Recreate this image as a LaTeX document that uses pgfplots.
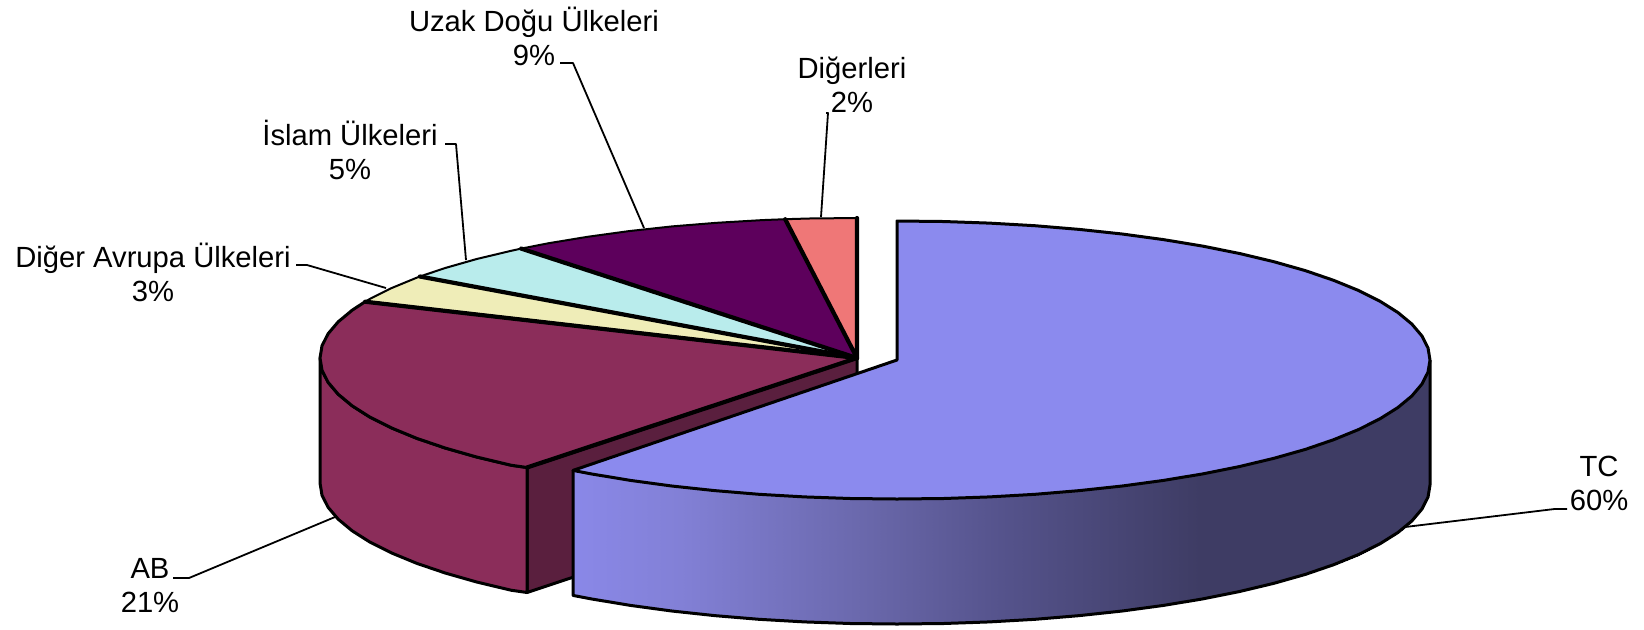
\documentclass[border=0pt]{standalone}
\usepackage{fontspec}
\setmainfont{Liberation Sans}
\usepackage{pgfplots}
\pgfplotsset{compat=1.18}

\definecolor{tcTop}{RGB}{139,138,238}
\definecolor{abTop}{RGB}{139,45,90}
\definecolor{abIn}{RGB}{90,31,62}
\definecolor{daTop}{RGB}{239,237,184}
\definecolor{isTop}{RGB}{185,236,236}
\definecolor{udTop}{RGB}{93,0,92}
\definecolor{dgTop}{RGB}{239,119,119}

\tikzset{
  lbl/.style={font=\fontsize{14.6}{17}\selectfont, align=center, inner sep=0pt},
  lead/.style={black, line width=0.9pt},
  sep/.style={black, line width=2.1pt, line cap=round},
}

\begin{document}
\begin{tikzpicture}
\begin{axis}[
    scale only axis,
    width=822pt, height=314.5pt,
    xmin=0, xmax=1644, ymin=0, ymax=629,
    y dir=reverse,
    hide axis, clip=false, no markers,
    every axis plot/.append style={line join=round},
    colormap={tcwall}{rgb255(0pt)=(138,136,232) rgb255(107pt)=(130,128,214) rgb255(297pt)=(105,103,170) rgb255(427pt)=(85,83,140) rgb255(627pt)=(62,60,100) rgb255(858pt)=(62,60,100)},
    point meta min=573, point meta max=1431,
  ]

  % hidden axis leaves no box of its own, so keep the full page
  \path (axis cs:0,0) rectangle (axis cs:1644,629);

  % AB inner wall
  \addplot[fill=abIn, draw=black, line width=1.5pt] coordinates {
    (857,358) (527,467.5) (527,592.5) (857,483)} -- cycle;
  % AB outer wall
  \addplot[fill=abTop, draw=black, line width=1.5pt] coordinates {
    (320,358) (322,370.2) (328.1,382.3) (338.2,394.2) (352.3,405.9) (370.1,417.2)
    (391.7,428) (416.7,438.3) (445.2,448) (476.7,457) (511.1,465.2) (527,467.5)
    (527,592.5) (511.1,590.2) (476.7,582) (445.2,573) (416.7,563.3) (391.7,553)
    (370.1,542.2) (352.3,530.9) (338.2,519.2) (328.1,507.3) (322,495.2) (320,483)} -- cycle;

  % top faces of the smaller slices
  \addplot[fill=dgTop, draw=black, line width=1pt] coordinates {
    (857,358) (857,218) (808.4,218.5) (785.2,219.2)} -- cycle;
  \addplot[fill=udTop, draw=black, line width=1pt] coordinates {
    (857,358) (785.2,219.2) (762.1,220.1) (716.5,222.8) (672,226.4) (628.9,231.1)
    (587.5,236.8) (548.1,243.3) (521.2,248.6)} -- cycle;
  \addplot[fill=isTop, draw=black, line width=1pt] coordinates {
    (857,358) (521.2,248.6) (511.1,250.8) (476.7,259) (445.2,268) (419.9,276.5)} -- cycle;
  \addplot[fill=daTop, draw=black, line width=1pt] coordinates {
    (857,358) (419.9,276.5) (416.7,277.7) (391.7,288) (370.1,298.8) (365.1,301.7)} -- cycle;
  \addplot[fill=abTop, draw=black, line width=1.5pt] coordinates {
    (857,358) (365.1,301.7) (352.3,310.1) (338.2,321.8) (328.1,333.7) (322,345.8)
    (320,358) (322,370.2) (328.1,382.3) (338.2,394.2) (352.3,405.9) (370.1,417.2)
    (391.7,428) (416.7,438.3) (445.2,448) (476.7,457) (511.1,465.2) (527,467.5)} -- cycle;

  % heavier edges between the slices
  \addplot[sep] coordinates {(857,218) (857,358) (785.2,219.2)};
  \addplot[sep] coordinates {(857,358) (521.2,248.6)};
  \addplot[sep] coordinates {(857,358) (419.9,276.5)};
  \addplot[sep] coordinates {(857,358) (365.1,301.7)};
  \addplot[sep] coordinates {(857,358) (527,467.5)};

  % TC wall, shaded from left to right
  \addplot[patch, patch type=rectangle, shader=interp, point meta=x] coordinates {
    (573,470.4) (591.3,473.9) (591.3,598.9) (573,595.4)
    (591.3,473.9) (630.5,480.4) (630.5,605.4) (591.3,598.9)
    (630.5,480.4) (671.8,486) (671.8,611) (630.5,605.4)
    (671.8,486) (714.7,490.6) (714.7,615.6) (671.8,611)
    (714.7,490.6) (759.1,494.3) (759.1,619.3) (714.7,615.6)
    (759.1,494.3) (804.5,496.9) (804.5,621.9) (759.1,619.3)
    (804.5,496.9) (850.5,498.5) (850.5,623.5) (804.5,621.9)
    (850.5,498.5) (897,499) (897,624) (850.5,623.5)
    (897,499) (943.5,498.5) (943.5,623.5) (897,624)
    (943.5,498.5) (989.5,496.9) (989.5,621.9) (943.5,623.5)
    (989.5,496.9) (1034.9,494.3) (1034.9,619.3) (989.5,621.9)
    (1034.9,494.3) (1079.3,490.6) (1079.3,615.6) (1034.9,619.3)
    (1079.3,490.6) (1122.2,486) (1122.2,611) (1079.3,615.6)
    (1122.2,486) (1163.5,480.4) (1163.5,605.4) (1122.2,611)
    (1163.5,480.4) (1202.7,473.9) (1202.7,598.9) (1163.5,605.4)
    (1202.7,473.9) (1239.6,466.5) (1239.6,591.5) (1202.7,598.9)
    (1239.6,466.5) (1273.9,458.3) (1273.9,583.3) (1239.6,591.5)
    (1273.9,458.3) (1305.3,449.4) (1305.3,574.4) (1273.9,583.3)
    (1305.3,449.4) (1333.6,439.7) (1333.6,564.7) (1305.3,574.4)
    (1333.6,439.7) (1358.6,429.5) (1358.6,554.5) (1333.6,564.7)
    (1358.6,429.5) (1380.1,418.7) (1380.1,543.7) (1358.6,554.5)
    (1380.1,418.7) (1397.9,407.5) (1397.9,532.5) (1380.1,543.7)
    (1397.9,407.5) (1411.8,396) (1411.8,521) (1397.9,532.5)
    (1411.8,396) (1421.9,384.1) (1421.9,509.1) (1411.8,521)
    (1421.9,384.1) (1428,372.1) (1428,497.1) (1421.9,509.1)
    (1428,372.1) (1430,360) (1430,485) (1428,497.1)
  };
  % TC wall outline
  \addplot[draw=black, line width=1.5pt] coordinates {
    (573,470.4) (573,595.4) (591.3,598.9) (630.5,605.4) (671.8,611) (714.7,615.6)
    (759.1,619.3) (804.5,621.9) (850.5,623.5) (897,624) (943.5,623.5) (989.5,621.9)
    (1034.9,619.3) (1079.3,615.6) (1122.2,611) (1163.5,605.4) (1202.7,598.9)
    (1239.6,591.5) (1273.9,583.3) (1305.3,574.4) (1333.6,564.7) (1358.6,554.5)
    (1380.1,543.7) (1397.9,532.5) (1411.8,521) (1421.9,509.1) (1428,497.1)
    (1430,485) (1430,360)};
  % TC top face
  \addplot[fill=tcTop, draw=black, line width=1.5pt] coordinates {
    (897,360) (897,221) (943.5,221.5) (989.5,223.1) (1034.9,225.7) (1079.3,229.4)
    (1122.2,234) (1163.5,239.6) (1202.7,246.1) (1239.6,253.5) (1273.9,261.7)
    (1305.3,270.6) (1333.6,280.3) (1358.6,290.5) (1380.1,301.3) (1397.9,312.5)
    (1411.8,324) (1421.9,335.9) (1428,347.9) (1430,360) (1428,372.1) (1421.9,384.1)
    (1411.8,396) (1397.9,407.5) (1380.1,418.7) (1358.6,429.5) (1333.6,439.7)
    (1305.3,449.4) (1273.9,458.3) (1239.6,466.5) (1202.7,473.9) (1163.5,480.4)
    (1122.2,486) (1079.3,490.6) (1034.9,494.3) (989.5,496.9) (943.5,498.5) (897,499)
    (850.5,498.5) (804.5,496.9) (759.1,494.3) (714.7,490.6) (671.8,486) (630.5,480.4)
    (591.3,473.9) (573,470.4)} -- cycle;

  % leader lines
  \addplot[lead] coordinates {(560,63) (573,63) (644,228)};
  \addplot[lead] coordinates {(826,113) (828,113) (821,217)};
  \addplot[lead] coordinates {(445,144) (456,144) (466,260)};
  \addplot[lead] coordinates {(296,265) (307,265) (386,288)};
  \addplot[lead] coordinates {(173,578) (189,578) (335,517)};
  \addplot[lead] coordinates {(1567,509) (1554.5,509) (1405,527)};

  % labels
  \node[lbl] at (axis cs:534,36) {Uzak Doğu Ülkeleri\\9\%};
  \node[lbl] at (axis cs:852,85) {Diğerleri\\2\%};
  \node[lbl] at (axis cs:350,150) {İslam Ülkeleri\\5\%};
  \node[lbl] at (axis cs:153,272) {Diğer Avrupa Ülkeleri\\3\%};
  \node[lbl] at (axis cs:150,586) {AB\\21\%};
  \node[lbl] at (axis cs:1599,483) {TC\\60\%};
\end{axis}
\end{tikzpicture}
\end{document}
